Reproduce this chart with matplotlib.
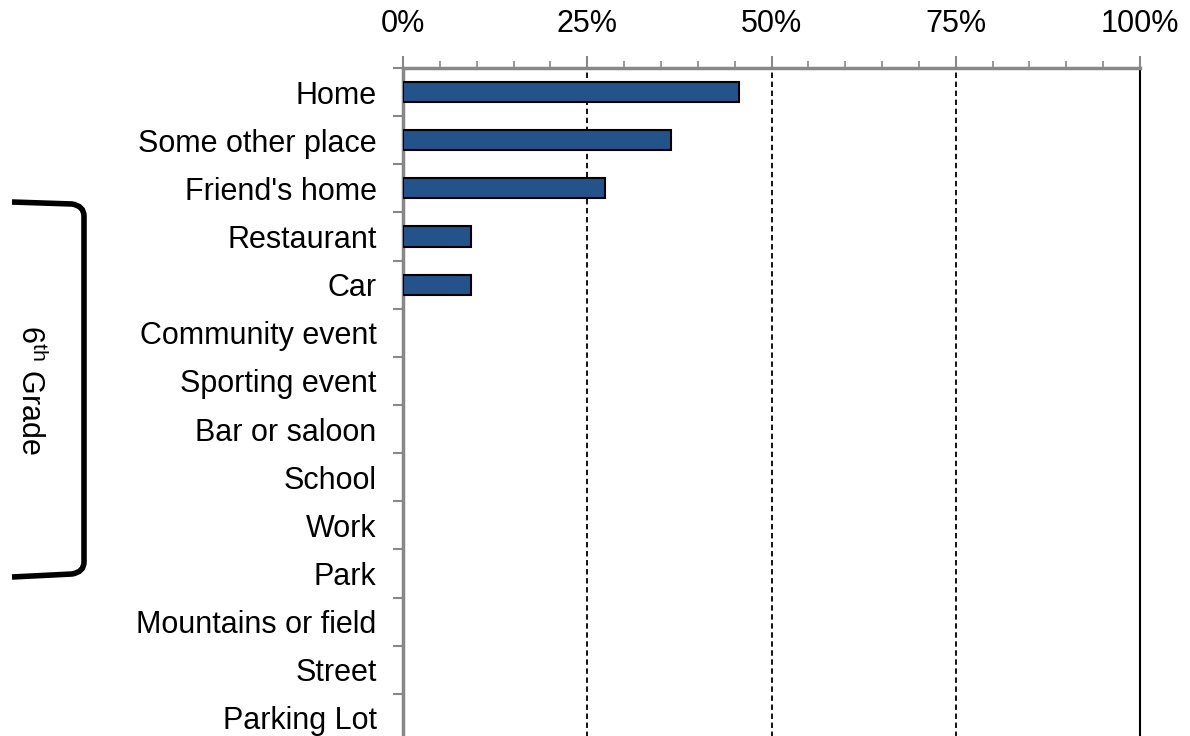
import numpy as np
import matplotlib.pyplot as plt
from matplotlib.path import Path
from matplotlib.patches import PathPatch

plt.rcParams['font.family'] = ['Liberation Sans', 'DejaVu Sans']

places = ["Home", "Some other place", "Friend's home", "Restaurant", "Car",
          "Community event", "Sporting event", "Bar or saloon", "School",
          "Work", "Park", "Mountains or field", "Street", "Parking Lot"]
pct = [45.6, 36.4, 27.4, 9.2, 9.2, 0, 0, 0, 0, 0, 0, 0, 0, 0]
xticks = [0, 25, 50, 75, 100]
xlabels = ["0%", "25%", "50%", "75%", "100%"]

W, H = 1190, 736
fig = plt.figure(figsize=(W / 100, H / 100), dpi=100)
ax = fig.add_axes([403 / W, -6 / H, 737 / W, 674 / H])

y = np.arange(len(places))
lw = [1.5 if v > 0 else 0 for v in pct]
ax.barh(y, pct, height=0.42, color='#24528a', edgecolor='black', linewidth=lw, zorder=3)
ax.set_ylim(len(places) - 0.5, -0.5)
ax.set_xlim(0, 100)

for v in [25, 50, 75]:
    ax.axvline(v, color='black', linestyle=(0, (3, 2)), linewidth=1.3, zorder=2)

ax.xaxis.tick_top()
ax.set_xticks(xticks)
ax.set_xticklabels(xlabels, fontsize=22)
ax.set_xticks(np.arange(0, 101, 5), minor=True)
ax.tick_params(axis='x', which='major', length=9, width=1.5, color='#888888', pad=12)
ax.tick_params(axis='x', which='minor', length=5, width=1.2, color='#888888')

ax.set_yticks(y)
ax.set_yticklabels(places, fontsize=22)
ax.tick_params(axis='y', which='major', length=0, pad=19)
ax.set_yticks(np.arange(-0.5, len(places), 1), minor=True)
ax.tick_params(axis='y', which='minor', length=7, width=1.5, color='#888888')

for s in ['top', 'left']:
    ax.spines[s].set_color('#888888')
    ax.spines[s].set_linewidth(2.5)
ax.spines['bottom'].set_visible(False)
ax.spines['right'].set_color('black')
ax.spines['right'].set_linewidth(1.5)

# bracket
def px(x, yy):
    return (x / W, 1 - yy / H)

verts = [px(12, 202), px(72, 204), px(84, 206), px(84, 216),
         px(84, 562), px(84, 572), px(72, 574), px(12, 577)]
codes = [Path.MOVETO, Path.LINETO, Path.CURVE3, Path.CURVE3,
         Path.LINETO, Path.CURVE3, Path.CURVE3, Path.LINETO]
fig.add_artist(PathPatch(Path(verts, codes), transform=fig.transFigure,
                         fill=False, edgecolor='black', linewidth=4, capstyle='butt'))

fig.text(30 / W, 1 - 390 / H, "6$^{\\mathregular{th}}$ Grade", rotation=270,
         ha='center', va='center', fontsize=22)

fig.savefig('out.png', dpi=100)
